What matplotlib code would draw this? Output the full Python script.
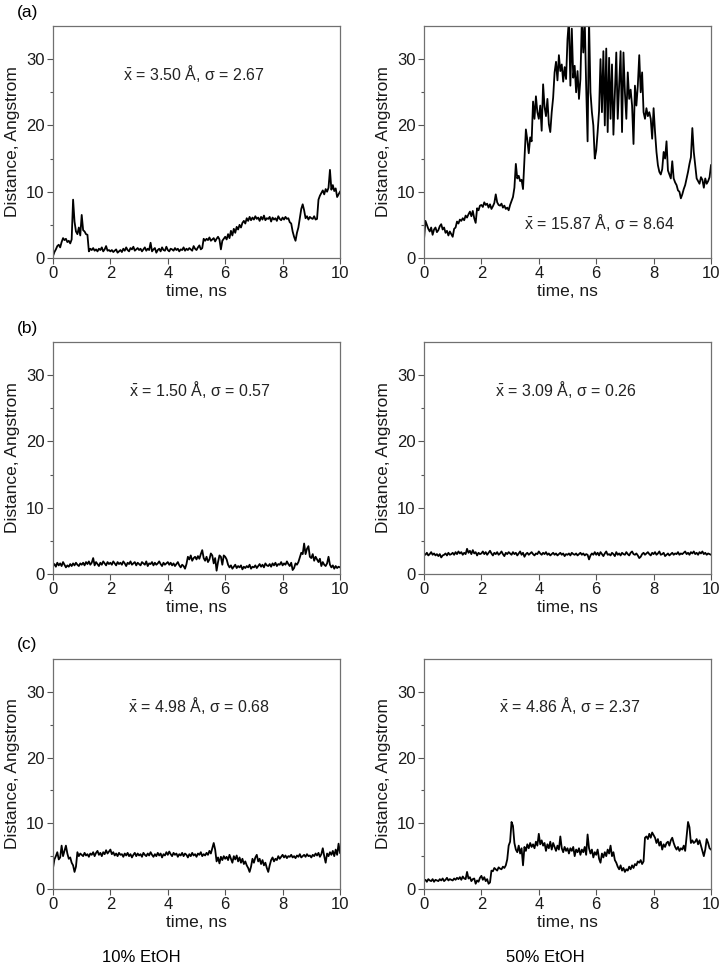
import numpy as np
import matplotlib
matplotlib.use('Agg')
import matplotlib.pyplot as plt

plt.rcParams['font.family'] = ['Liberation Sans', 'DejaVu Sans']
plt.rcParams['mathtext.fontset'] = 'custom'
plt.rcParams['mathtext.rm'] = 'Liberation Sans'
plt.rcParams['mathtext.it'] = 'Liberation Sans'

# time axis, ns (0.05 ns steps)
time_ns = np.linspace(0, 10, 201)

# (a) 10% EtOH
a_10 = [0.3, 0.9, 1.3, 1.8, 2.0, 1.6, 2.4, 3.0, 2.7, 2.9, 2.4, 2.6, 2.2, 2.8, 8.8, 5.5, 4.0, 3.6, 4.6, 3.4,
        6.5, 4.2, 4.0, 3.6, 3.5, 1.0, 1.4, 1.2, 1.5, 1.1, 1.3, 1.0, 1.4, 1.2, 1.6, 1.0, 1.3, 1.8, 1.1, 1.2,
        1.0, 1.2, 0.9, 1.1, 1.3, 0.8, 1.0, 1.2, 0.9, 1.4, 1.1, 1.6, 1.2, 1.0, 1.5, 1.3, 1.7, 1.1, 1.3, 1.5,
        1.2, 1.4, 1.0, 1.3, 1.6, 1.1, 1.4, 1.2, 2.3, 1.0, 1.3, 1.5, 0.8, 1.2, 1.4, 1.0, 1.6, 1.2, 1.1, 1.7,
        1.2, 1.0, 1.4, 1.3, 1.1, 1.5, 1.2, 1.4, 1.0, 1.3, 1.2, 1.6, 1.1, 1.4, 1.2, 1.5, 1.3, 1.1, 1.8, 1.4,
        1.2, 1.6, 1.9, 1.3, 1.5, 2.9, 2.6, 2.9, 2.7, 3.1, 2.6, 2.8, 3.0, 2.5, 2.9, 3.2, 2.8, 1.3, 2.6, 2.9,
        3.2, 2.8, 3.6, 3.0, 4.1, 3.4, 4.4, 3.8, 4.7, 4.3, 5.0, 4.6, 5.3, 5.6, 5.2, 6.0, 5.6, 6.2, 5.7, 6.1,
        5.8, 6.3, 5.9, 6.1, 5.6, 6.2, 5.8, 6.4, 5.7, 6.0, 5.9, 6.2, 5.5, 6.1, 5.8, 6.0, 5.6, 6.3, 5.9, 5.7,
        6.1, 5.8, 6.2, 5.9, 6.0, 5.4, 5.2, 4.0, 3.2, 2.6, 3.8, 4.6, 6.0, 7.4, 8.1, 7.2, 6.0, 6.3, 5.8, 6.2,
        6.0, 5.9, 6.3, 5.8, 5.9, 8.8, 9.4, 9.8, 10.2, 9.6, 10.4, 10.0, 10.6, 13.3, 10.3, 11.0, 10.1, 10.5, 9.2, 9.6,
        10.0]

# (a) 50% EtOH
a_50 = [2.8, 5.6, 5.0, 4.4, 4.0, 4.6, 3.5, 4.3, 4.6, 3.9, 4.2, 4.8, 5.1, 4.3, 4.6, 3.8, 4.1, 3.4, 4.0, 3.6,
        3.2, 4.4, 4.6, 5.5, 5.2, 5.8, 5.6, 6.0, 5.7, 6.4, 6.1, 6.6, 7.0, 6.3, 7.1, 6.0, 5.3, 7.5, 7.2, 7.9,
        8.0, 7.7, 8.4, 8.0, 8.2, 7.6, 8.1, 7.4, 7.8, 8.3, 9.6, 8.4, 8.0, 7.9, 8.2, 7.6, 7.9, 7.4, 7.6, 7.2,
        8.0, 8.6, 9.2, 10.6, 14.2, 12.0, 12.4, 11.6, 11.8, 10.4, 15.0, 19.4, 17.8, 15.8, 18.2, 17.6, 23.6, 21.0, 24.4, 22.0,
        21.0, 23.0, 19.2, 26.2, 22.8, 21.4, 24.0, 20.2, 19.0, 22.0, 24.2, 28.0, 29.6, 26.8, 30.6, 28.2, 29.2, 26.6, 28.8, 27.0,
        33.0, 36.0, 26.0, 34.6, 27.2, 29.0, 25.0, 28.2, 24.0, 27.0, 36.0, 31.0, 36.0, 26.0, 17.6, 36.0, 25.0, 22.0, 20.0, 15.0,
        16.2, 19.0, 22.2, 30.0, 22.0, 31.2, 20.0, 31.6, 19.0, 30.2, 21.0, 29.2, 18.6, 25.0, 31.0, 21.0, 26.0, 31.2, 19.0, 31.0,
        25.0, 21.0, 28.0, 24.0, 25.4, 23.0, 17.2, 26.0, 23.0, 26.0, 30.6, 25.0, 28.0, 22.0, 21.0, 22.6, 21.4, 22.0, 21.0, 18.0,
        22.6, 19.0, 16.0, 14.0, 13.0, 12.6, 13.4, 16.0, 15.0, 17.6, 13.2, 12.6, 12.0, 14.6, 12.0, 11.4, 11.0, 10.2, 10.0, 9.0,
        9.6, 10.4, 11.0, 12.0, 13.0, 14.2, 15.2, 19.6, 16.0, 14.0, 12.0, 11.6, 11.2, 12.2, 11.8, 10.6, 12.0, 11.2, 11.6, 12.2,
        14.0]

# (b) 10% EtOH
b_10 = [1.2, 1.5, 1.1, 1.7, 1.3, 1.6, 1.2, 1.8, 1.4, 1.0, 1.3, 1.1, 1.5, 1.2, 1.6, 1.3, 1.7, 1.4, 1.2, 1.6,
        1.4, 1.7, 1.3, 1.8, 1.5, 1.9, 1.4, 1.7, 2.4, 1.3, 1.8, 1.5, 1.2, 1.7, 1.4, 1.9, 1.6, 1.3, 1.8, 1.5,
        1.7, 1.4, 1.9, 1.6, 1.3, 1.8, 1.5, 1.7, 1.4, 1.9, 1.6, 1.2, 1.7, 1.5, 1.9, 1.4, 1.6, 1.8, 1.3, 1.7,
        1.5, 1.3, 1.8, 1.6, 1.4, 1.9, 1.2, 1.6, 1.5, 1.8, 1.3, 1.7, 1.4, 1.6, 1.9, 1.5, 1.2, 1.7, 1.4, 1.6,
        1.8, 1.4, 1.7, 1.3, 1.6, 1.2, 1.5, 1.8, 1.3, 1.0, 1.4, 1.2, 0.8, 1.5, 2.6, 2.2, 2.8, 2.0, 2.4, 2.6,
        2.2, 2.7, 2.3, 3.0, 3.6, 2.4, 2.0, 2.6, 1.8, 2.2, 3.1, 2.8, 1.6, 2.4, 0.5, 1.8, 2.8, 2.6, 1.4, 2.8,
        2.6, 2.2, 1.4, 1.0, 1.3, 0.8, 1.1, 1.4, 0.9, 1.2, 1.0, 1.3, 0.7, 1.1, 0.9, 1.2, 1.0, 1.4, 0.8, 1.1,
        1.0, 1.3, 0.9, 1.2, 1.5, 1.1, 1.4, 1.0, 1.6, 1.3, 1.2, 1.5, 1.1, 1.6, 1.3, 1.7, 1.2, 1.5, 1.4, 1.8,
        1.3, 1.6, 1.4, 1.9, 1.5, 1.2, 1.7, 0.6, 0.9, 1.6, 1.4, 1.8, 2.5, 3.2, 3.0, 4.6, 3.0, 3.8, 4.2, 2.6,
        2.4, 3.0, 2.0, 2.6, 2.2, 1.8, 2.3, 1.2, 1.8, 1.4, 1.2, 1.6, 2.6, 1.4, 1.0, 1.3, 0.8, 1.2, 0.9, 1.1,
        1.0]

# (b) 50% EtOH
b_50 = [3.1, 2.9, 3.2, 2.8, 3.0, 3.3, 2.9, 3.1, 2.8, 3.0, 2.7, 3.0, 2.5, 2.8, 2.9, 3.1, 2.8, 3.2, 2.9, 3.0,
        3.2, 2.9, 3.3, 3.0, 3.4, 3.1, 3.3, 2.9, 3.2, 3.0, 3.8, 3.2, 3.5, 3.0, 3.6, 3.1, 3.3, 2.8, 3.2, 3.0,
        3.1, 3.4, 3.0, 3.3, 2.9, 3.2, 3.5, 3.1, 2.8, 3.2, 3.0, 3.3, 2.9, 3.1, 3.4, 3.0, 2.7, 3.2, 3.0, 3.3,
        3.1, 2.9, 3.3, 3.0, 3.2, 2.8, 3.1, 3.4, 2.9, 3.2, 2.6, 3.0, 3.2, 2.9, 3.1, 3.3, 3.0, 2.8, 3.1, 3.0,
        3.4, 3.1, 2.9, 3.2, 3.0, 3.3, 2.9, 3.1, 2.8, 3.0, 3.2, 2.9, 3.1, 2.8, 3.0, 3.2, 2.9, 3.1, 2.7, 3.0,
        2.9, 3.1, 2.8, 3.2, 3.0, 2.9, 3.1, 2.8, 3.0, 3.2, 2.9, 3.1, 2.8, 3.0, 2.9, 2.2, 2.8, 3.1, 2.9, 3.3,
        2.9, 3.2, 2.8, 3.3, 3.0, 2.7, 3.1, 3.4, 2.9, 3.0, 2.8, 3.2, 3.0, 2.7, 3.3, 2.9, 3.1, 2.8, 3.2, 3.0,
        2.9, 3.3, 3.0, 2.8, 3.2, 3.4, 3.0, 2.9, 3.1, 2.8, 2.4, 2.6, 3.0, 3.2, 2.9, 3.1, 3.3, 3.0, 2.8, 3.2,
        3.0, 3.3, 2.9, 3.1, 3.4, 2.9, 3.0, 3.2, 2.7, 2.9, 3.1, 2.8, 3.0, 3.2, 2.9, 3.1, 3.0, 3.3, 2.9, 3.1,
        3.0, 3.2, 3.4, 3.0, 3.2, 2.9, 3.3, 3.1, 3.4, 3.0, 3.2, 2.9, 3.3, 3.1, 3.4, 3.0, 3.2, 2.9, 3.1, 3.0,
        2.9]

# (c) 10% EtOH
c_10 = [3.2, 4.5, 5.0, 5.6, 4.5, 4.8, 6.6, 5.0, 5.8, 6.6, 5.4, 4.6, 4.8, 4.0, 3.6, 2.6, 3.4, 5.6, 5.0, 5.4,
        5.2, 5.0, 5.5, 5.1, 5.3, 4.9, 5.4, 5.2, 5.6, 5.0, 5.5, 5.8, 5.2, 5.5, 5.0, 5.6, 5.3, 5.9, 5.4, 5.7,
        6.0, 5.3, 5.6, 5.1, 5.4, 5.0, 5.5, 5.2, 5.3, 4.9, 5.4, 5.1, 5.5, 5.0, 5.3, 4.8, 5.2, 5.5, 5.0, 5.4,
        5.1, 5.3, 4.9, 5.5, 5.2, 5.0, 5.4, 5.1, 5.6, 5.2, 4.9, 5.3, 5.0, 5.5, 5.1, 5.4, 4.8, 5.3, 5.1, 5.6,
        5.2, 5.7, 5.3, 5.0, 5.5, 5.2, 5.4, 4.9, 5.3, 5.1, 5.5, 5.0, 5.4, 5.2, 4.8, 5.3, 5.0, 5.5, 5.1, 5.3,
        4.9, 5.4, 5.2, 5.6, 5.0, 5.3, 5.1, 5.5, 5.2, 5.8, 5.4, 6.2, 7.0, 6.0, 4.2, 4.8, 3.9, 4.9, 4.4, 5.0,
        4.6, 4.9, 4.4, 5.2, 4.6, 4.0, 5.0, 4.5, 5.1, 4.2, 4.8, 4.0, 4.6, 3.8, 4.2, 3.6, 3.2, 2.6, 3.4, 4.6,
        4.0, 4.8, 5.2, 4.2, 4.6, 3.8, 4.4, 3.6, 4.0, 3.2, 2.6, 3.6, 4.4, 4.8, 4.2, 4.6, 4.4, 5.0, 4.6, 4.9,
        5.2, 4.8, 5.1, 4.7, 5.0, 4.9, 5.2, 4.8, 5.0, 4.7, 5.1, 4.9, 5.3, 4.8, 5.0, 5.2, 4.9, 5.3, 5.0, 5.1,
        4.8, 5.2, 5.0, 5.4, 5.1, 5.5, 4.9, 5.3, 6.2, 5.0, 4.0, 5.4, 5.0, 5.6, 5.2, 5.8, 5.0, 6.0, 5.2, 6.9,
        5.5]

# (c) 50% EtOH
c_50 = [1.2, 1.4, 1.1, 1.5, 1.3, 1.2, 1.5, 1.1, 1.4, 1.3, 1.2, 1.5, 1.3, 1.6, 1.2, 1.4, 1.7, 1.3, 1.5, 1.4,
        1.3, 1.6, 1.4, 1.7, 1.5, 1.8, 1.4, 1.9, 1.6, 1.5, 2.6, 1.6, 1.8, 1.2, 1.5, 1.6, 0.8, 1.3, 1.1, 1.7,
        2.0, 1.4, 1.8, 1.2, 1.5, 0.8, 1.0, 2.8, 2.7, 3.2, 3.0, 2.8, 3.3, 3.1, 3.0, 3.4, 3.2, 3.6, 4.5, 6.6,
        7.2, 10.2, 9.6, 7.0, 6.0, 5.6, 6.6, 5.4, 6.2, 3.6, 6.4, 5.8, 6.8, 6.2, 7.0, 6.4, 6.8, 6.2, 7.2, 6.6,
        8.4, 6.8, 7.4, 6.6, 7.0, 5.8, 6.8, 6.2, 7.2, 6.0, 7.0, 6.4, 5.8, 6.6, 6.0, 8.0, 6.2, 5.6, 6.4, 5.8,
        6.2, 5.4, 6.2, 5.8, 6.4, 5.0, 6.0, 5.6, 6.2, 5.2, 6.0, 5.6, 6.4, 5.2, 8.3, 6.2, 5.4, 6.0, 4.8, 5.6,
        5.2, 6.0, 4.6, 4.0, 5.4, 4.8, 5.6, 5.0, 6.0, 5.4, 6.6, 5.0, 5.6, 4.4, 4.0, 3.4, 3.0, 3.6, 2.8, 3.2,
        2.6, 3.0, 2.8, 3.4, 3.0, 3.6, 3.2, 3.8, 3.6, 4.2, 4.0, 4.4, 3.8, 4.2, 7.8, 8.0, 7.6, 8.4, 7.8, 8.6,
        8.2, 7.8, 7.0, 7.6, 6.6, 7.2, 6.0, 6.8, 6.4, 7.0, 7.2, 6.6, 7.4, 7.8, 7.0, 6.4, 6.0, 6.4, 5.8, 6.2,
        6.0, 6.6, 5.8, 8.0, 10.2, 9.4, 7.0, 7.4, 7.0, 7.2, 7.6, 6.8, 7.4, 6.6, 5.8, 5.0, 6.0, 7.6, 7.0, 6.2,
        6.0]

series = [[a_10, a_50], [b_10, b_50], [c_10, c_50]]
stats = [[r'$\bar{\mathrm{x}}$ = 3.50 Å, σ = 2.67', r'$\bar{\mathrm{x}}$ = 15.87 Å, σ = 8.64'],
         [r'$\bar{\mathrm{x}}$ = 1.50 Å, σ = 0.57', r'$\bar{\mathrm{x}}$ = 3.09 Å, σ = 0.26'],
         [r'$\bar{\mathrm{x}}$ = 4.98 Å, σ = 0.68', r'$\bar{\mathrm{x}}$ = 4.86 Å, σ = 2.37']]
stat_pos = [[(4.9, 27.9), (6.1, 5.4)], [(5.1, 27.8), (4.96, 27.8)], [(5.1, 28.0), (5.1, 28.0)]]
row_labels = ['(a)', '(b)', '(c)']
col_labels = ['10% EtOH', '50% EtOH']

fig = plt.figure(figsize=(7.19, 9.68), dpi=100)
W, H = 719.0, 968.0
lefts = [53, 424]
rows_px = [(26, 258), (342, 574), (659, 889)]
width_px = 287

for i in range(3):
    top, bot = rows_px[i]
    for j in range(2):
        ax = fig.add_axes([lefts[j] / W, 1 - bot / H, width_px / W, (bot - top) / H])
        ax.plot(time_ns, series[i][j], color='black', lw=1.3)
        ax.set_xlim(0, 10)
        ax.set_ylim(0, 35)
        ax.set_xticks([0, 2, 4, 6, 8, 10])
        ax.set_yticks([0, 10, 20, 30])
        ax.set_yticks([5, 15, 25], minor=True)
        ax.tick_params(direction='out', length=4, width=0.8, labelsize=12, color='#555555',
                       labelcolor='#1a1a1a', pad=2)
        ax.tick_params(which='minor', direction='out', length=2.5, width=0.8, color='#555555')
        for s in ax.spines.values():
            s.set_color('#707070')
            s.set_linewidth(0.9)
        ax.set_xlabel('time, ns', fontsize=12.5, labelpad=2, color='#1a1a1a')
        ax.set_ylabel('Distance, Angstrom', fontsize=12.5, labelpad=4, color='#1a1a1a')
        ax.text(stat_pos[i][j][0], stat_pos[i][j][1], stats[i][j], ha='center', va='center',
                fontsize=11.5, color='#222222')
    fig.text(17 / W, 1 - (top - 14) / H, row_labels[i], fontsize=12.5, ha='left', va='center')

fig.text(141 / W, 1 - 958 / H, col_labels[0], fontsize=12, ha='center', va='center')
fig.text(545 / W, 1 - 958 / H, col_labels[1], fontsize=12, ha='center', va='center')

plt.savefig('out.png', dpi=100)
